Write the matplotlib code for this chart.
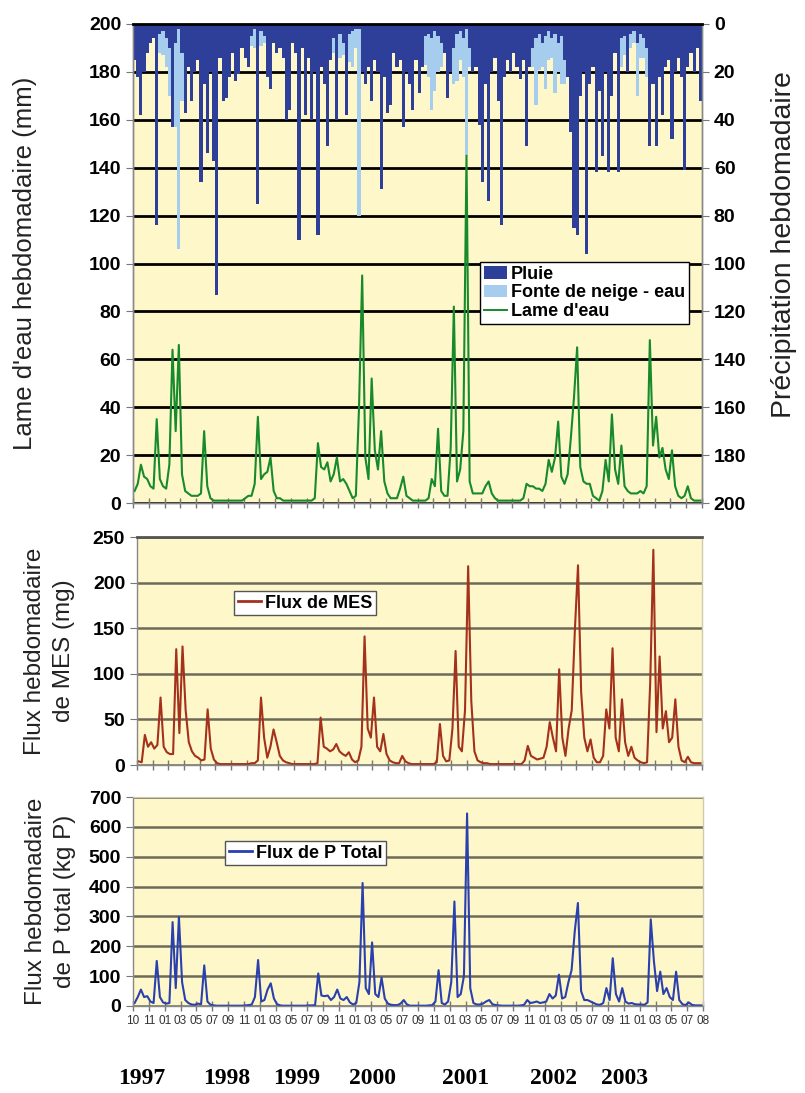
import numpy as np
import matplotlib
matplotlib.use("Agg")
import matplotlib.pyplot as plt
from matplotlib.patches import Patch
from matplotlib.lines import Line2D

plt.rcParams['font.family'] = ['Liberation Sans', 'DejaVu Sans']

# weekly series
pluie = [
    15, 22, 38, 20, 12, 8, 6, 84, 4, 3,
    6, 10, 43, 8, 2, 12, 37, 18, 32, 20,
    15, 66, 25, 54, 20, 57, 113, 14, 32, 31,
    22, 12, 24, 21, 10, 14, 18, 5, 2, 75,
    3, 5, 22, 27, 8, 12, 10, 14, 40, 36,
    8, 12, 90, 10, 38, 14, 40, 20, 88, 18,
    25, 51, 15, 6, 40, 4, 8, 38, 4, 3,
    2, 2, 20, 25, 18, 32, 15, 20, 69, 22,
    37, 34, 12, 18, 15, 43, 20, 25, 36, 15,
    29, 18, 5, 4, 6, 3, 5, 8, 12, 31,
    20, 10, 4, 3, 6, 2, 10, 20, 18, 42,
    66, 25, 74, 20, 14, 32, 84, 22, 15, 20,
    12, 18, 23, 15, 51, 18, 10, 6, 4, 8,
    5, 3, 6, 4, 8, 5, 15, 22, 45, 85,
    88, 30, 20, 96, 25, 18, 62, 28, 55, 20,
    62, 30, 12, 62, 6, 5, 20, 4, 3, 8,
    4, 6, 10, 51, 25, 51, 22, 38, 18, 15,
    48, 20, 14, 22, 61, 18, 12, 20, 10, 32]

neige = [
    0, 0, 0, 0, 0, 0, 0, 0, 8, 10,
    12, 20, 0, 35, 92, 20, 0, 0, 0, 0,
    0, 0, 0, 0, 0, 0, 0, 0, 0, 0,
    0, 0, 0, 0, 0, 0, 0, 4, 8, 0,
    6, 3, 0, 0, 0, 0, 0, 0, 0, 0,
    0, 0, 0, 0, 0, 0, 0, 0, 0, 0,
    0, 0, 0, 6, 0, 10, 5, 0, 12, 15,
    8, 78, 0, 0, 0, 0, 0, 0, 0, 0,
    0, 0, 0, 0, 0, 0, 0, 0, 0, 0,
    0, 0, 12, 18, 30, 25, 15, 10, 0, 0,
    0, 15, 20, 12, 16, 53, 8, 0, 0, 0,
    0, 0, 0, 0, 0, 0, 0, 0, 0, 0,
    0, 0, 0, 0, 0, 0, 8, 28, 15, 10,
    22, 12, 8, 25, 12, 20, 10, 0, 0, 0,
    0, 0, 0, 0, 0, 0, 0, 0, 0, 0,
    0, 0, 0, 0, 12, 8, 0, 6, 5, 22,
    10, 8, 12, 0, 0, 0, 0, 0, 0, 0,
    0, 0, 0, 0, 0, 0, 0, 0, 0, 0]

lame = [
    5, 8, 16, 11, 10, 7, 6, 35, 10, 7,
    6, 16, 64, 30, 66, 12, 5, 4, 3, 3,
    3, 4, 30, 7, 2, 1, 1, 1, 1, 1,
    1, 1, 1, 1, 1, 2, 3, 3, 8, 36,
    10, 12, 13, 19, 5, 2, 2, 1, 1, 1,
    1, 1, 1, 1, 1, 1, 1, 2, 25, 15,
    14, 17, 9, 12, 19, 9, 10, 8, 5, 2,
    3, 40, 95, 19, 10, 52, 22, 14, 30, 9,
    4, 2, 2, 2, 6, 11, 3, 2, 1, 1,
    1, 1, 1, 2, 10, 7, 31, 5, 3, 3,
    23, 82, 9, 14, 30, 145, 9, 4, 4, 4,
    4, 7, 9, 4, 2, 1, 1, 1, 1, 1,
    1, 1, 1, 2, 8, 7, 7, 6, 6, 5,
    8, 18, 13, 19, 34, 11, 8, 12, 27, 44,
    65, 15, 9, 8, 8, 3, 2, 1, 5, 18,
    9, 37, 14, 8, 24, 7, 5, 4, 4, 4,
    5, 4, 7, 68, 24, 36, 19, 23, 14, 10,
    22, 7, 3, 2, 3, 7, 2, 1, 1, 1]

mes = [
    4, 3, 33, 20, 25, 18, 22, 74, 20, 14,
    12, 12, 127, 35, 130, 60, 25, 15, 10, 8,
    5, 6, 61, 18, 6, 2, 1, 1, 1, 1,
    1, 1, 1, 1, 1, 1, 2, 2, 5, 74,
    30, 8, 20, 39, 25, 10, 5, 3, 2, 1,
    1, 1, 1, 1, 1, 1, 1, 2, 52, 20,
    18, 15, 17, 23, 15, 12, 10, 14, 6, 3,
    5, 20, 141, 40, 30, 74, 20, 15, 34, 12,
    5, 3, 2, 2, 10, 4, 2, 1, 1, 1,
    1, 1, 1, 1, 1, 3, 45, 10, 4, 5,
    40, 125, 20, 15, 60, 218, 70, 15, 5, 3,
    2, 2, 1, 1, 1, 1, 1, 1, 1, 1,
    1, 1, 1, 5, 21, 10, 8, 6, 7, 8,
    20, 47, 30, 15, 105, 30, 10, 40, 60, 148,
    219, 80, 30, 15, 28, 8, 3, 3, 10, 61,
    40, 128, 30, 15, 72, 25, 10, 20, 8, 5,
    3, 2, 3, 90, 236, 36, 119, 40, 59, 25,
    30, 72, 20, 5, 3, 9, 3, 2, 2, 2]

ptot = [
    10, 30, 55, 30, 33, 15, 10, 151, 30, 12,
    8, 10, 281, 60, 298, 80, 20, 10, 5, 4,
    8, 6, 136, 15, 4, 2, 1, 1, 1, 1,
    1, 1, 1, 1, 1, 2, 3, 5, 30, 154,
    15, 20, 55, 76, 25, 6, 2, 1, 1, 1,
    1, 1, 1, 1, 1, 2, 2, 3, 109, 35,
    33, 35, 20, 30, 55, 25, 20, 30, 12, 5,
    10, 80, 412, 60, 40, 213, 40, 30, 95, 25,
    8, 4, 3, 3, 8, 20, 5, 1, 1, 1,
    1, 1, 1, 2, 3, 15, 120, 10, 5, 15,
    80, 350, 30, 40, 100, 645, 60, 10, 5, 5,
    8, 15, 20, 6, 3, 2, 1, 1, 1, 1,
    1, 1, 2, 4, 20, 10, 12, 15, 10, 12,
    15, 40, 25, 35, 105, 25, 30, 80, 120, 250,
    345, 50, 20, 20, 15, 10, 5, 4, 10, 60,
    20, 160, 40, 15, 60, 15, 8, 10, 6, 5,
    5, 4, 12, 290, 150, 50, 115, 40, 60, 30,
    20, 115, 20, 6, 3, 12, 4, 2, 2, 2]

month_labels = (["10", "11"] + ["01", "03", "05", "07", "09", "11"] * 5
                + ["01", "03", "05", "07", "08"])
years = ["1997", "1998", "1999", "2000", "2001", "2002", "2003"]
year_x = [142, 227, 297, 372, 466, 553, 624]

bg = '#fdf7c9'
c_pluie = '#2d3f99'
c_neige = '#a6cdee'
c_lame = '#178a2b'
c_mes = '#a3311b'
c_p = '#2a40ae'

x = np.arange(len(lame))
ticks = np.linspace(-0.5, len(lame) - 0.5, len(month_labels))
W, H = 805, 1093

fig = plt.figure(figsize=(W / 100, H / 100), dpi=100)


def style(ax):
    ax.set_xlim(-0.5, len(lame) - 0.5)
    ax.set_xticks(ticks)
    ax.tick_params(axis='x', direction='inout', length=7, color='#777777', width=1)
    ax.tick_params(axis='y', direction='out', length=5, color='#777777',
                   labelsize=14)
    for lab in ax.get_yticklabels():
        lab.set_fontweight('bold')
    for s in ['left', 'bottom', 'right']:
        ax.spines[s].set_color('#888888')
        ax.spines[s].set_linewidth(1)


# ---- top panel
ax1 = fig.add_axes([133 / W, 1 - 503 / H, 569 / W, 479 / H])
ax1b = ax1.twinx()
ax1.set_zorder(2)
ax1b.set_zorder(1)
ax1.patch.set_visible(False)
ax1b.patch.set_visible(True)
ax1b.patch.set_facecolor(bg)

ax1b.bar(x, pluie, width=1.0, color=c_pluie, linewidth=0, zorder=3)
ax1b.bar(x, neige, width=1.0, bottom=pluie, color=c_neige, linewidth=0, zorder=3)
ax1b.set_ylim(200, 0)
ax1b.set_yticks(np.arange(0, 201, 20))
ax1b.yaxis.grid(True, color='black', linewidth=2)
ax1b.set_axisbelow(True)

ax1.plot(x, lame, color=c_lame, linewidth=1.5)
ax1.set_ylim(0, 200)
ax1.set_yticks(np.arange(0, 201, 20))
style(ax1)
style(ax1b)
ax1.set_xticklabels([])
ax1.spines['top'].set_color('black')
ax1.spines['top'].set_linewidth(2)
ax1b.spines['top'].set_visible(False)
ax1.set_ylabel("Lame d'eau hebdomadaire (mm)", fontsize=18.5, color='#222222')
ax1.yaxis.set_label_coords(-0.168, 0.5)
ax1b.set_ylabel("Précipitation hebdomadaire", fontsize=20.5, color='#222222')
ax1b.yaxis.set_label_coords(1.122, 0.54)

h1 = [Patch(facecolor=c_pluie, edgecolor='none'),
      Patch(facecolor=c_neige, edgecolor='none'),
      Line2D([0], [0], color=c_lame, linewidth=1.4)]
leg = ax1.legend(h1, ["Pluie", "Fonte de neige - eau", "Lame d'eau"],
                 loc='upper left', bbox_to_anchor=(0.61, 0.503),
                 prop={'weight': 'bold', 'size': 13}, frameon=True,
                 fancybox=False, framealpha=1, edgecolor='black',
                 handlelength=1.3, handleheight=0.7, handletextpad=0.2,
                 borderpad=0.2, labelspacing=0.1, borderaxespad=0)
leg.get_frame().set_linewidth(1)

# ---- middle panel
ax2 = fig.add_axes([137 / W, 1 - 765 / H, 565 / W, 228 / H])
ax2.set_facecolor(bg)
ax2.plot(x, mes, color=c_mes, linewidth=1.5)
ax2.set_ylim(0, 250)
ax2.set_yticks(np.arange(0, 251, 50))
ax2.yaxis.grid(True, color='#6e6a5a', linewidth=1.8)
ax2.set_axisbelow(True)
style(ax2)
ax2.set_xticklabels([])
ax2.spines['top'].set_color('#555555')
ax2.spines['top'].set_linewidth(2)
ax2.spines['right'].set_color('#cfcbb0')
ax2.set_ylabel("Flux hebdomadaire\nde MES (mg)", fontsize=17.5, color='#222222',
               linespacing=1.4)
ax2.yaxis.set_label_coords(-0.11, 0.5)
leg2 = ax2.legend([Line2D([0], [0], color=c_mes, linewidth=2)], ["Flux de MES"],
                  loc='upper left', bbox_to_anchor=(0.172, 0.763),
                  prop={'weight': 'bold', 'size': 13}, frameon=True,
                  fancybox=False, framealpha=1, edgecolor='#555555',
                  handlelength=1.3, handletextpad=0.2, borderpad=0.2,
                  borderaxespad=0)

# ---- bottom panel
ax3 = fig.add_axes([133 / W, 1 - 1006 / H, 570 / W, 209 / H])
ax3.set_facecolor(bg)
ax3.plot(x, ptot, color=c_p, linewidth=1.5)
ax3.set_ylim(0, 700)
ax3.set_yticks(np.arange(0, 701, 100))
ax3.yaxis.grid(True, color='#6e6a5a', linewidth=1.8)
ax3.set_axisbelow(True)
style(ax3)
ax3.set_xticklabels(month_labels, fontsize=8.5, color='#333333')
ax3.tick_params(axis='x', pad=3)
ax3.spines['top'].set_color('#cfcbb0')
ax3.spines['right'].set_color('#cfcbb0')
ax3.set_ylabel("Flux hebdomadaire\nde P total (kg P)", fontsize=17.5,
               color='#222222', linespacing=1.4)
ax3.yaxis.set_label_coords(-0.1, 0.5)
leg3 = ax3.legend([Line2D([0], [0], color=c_p, linewidth=2)], ["Flux de P Total"],
                  loc='upper left', bbox_to_anchor=(0.162, 0.789),
                  prop={'weight': 'bold', 'size': 13}, frameon=True,
                  fancybox=False, framealpha=1, edgecolor='#555555',
                  handlelength=1.3, handletextpad=0.2, borderpad=0.2,
                  borderaxespad=0)

for yr, xp in zip(years, year_x):
    fig.text(xp / W, 1 - 1079 / H, yr, ha='center', va='center',
             fontsize=17, fontweight='bold', family='Liberation Serif')

fig.savefig("out.png", dpi=100)
